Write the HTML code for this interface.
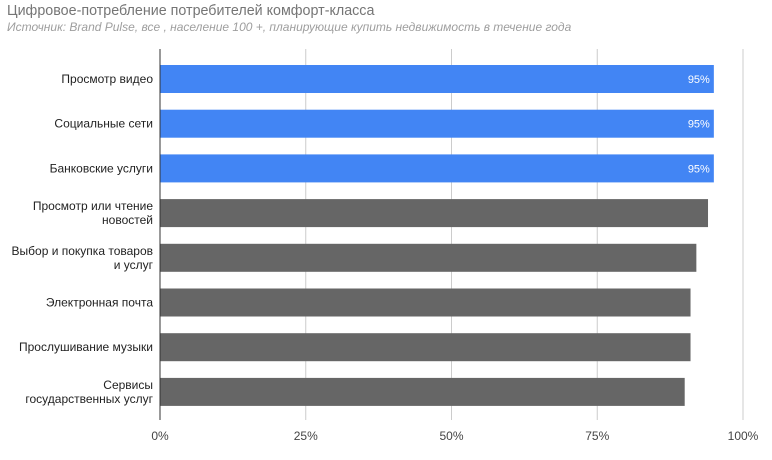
<!DOCTYPE html>
<html><head><meta charset="utf-8"><style>
body{margin:0;background:#fff;font-family:"Liberation Sans","Noto Sans CJK SC",sans-serif;}
svg text{font-family:"Liberation Sans","Noto Sans CJK SC",sans-serif;}
</style></head><body>
<svg id="c" width="772" height="455" xmlns="http://www.w3.org/2000/svg">
<text x="7" y="15" font-size="14.3" fill="#757575">Цифровое-потребление потребителей комфорт-класса</text>
<text x="7" y="31" font-size="12" font-style="italic" fill="#9e9e9e">Источник: Brand Pulse, все , население 100 +, планирующие купить недвижимость в течение года</text>
<g id="grid"></g><g id="bars"></g><g id="labels"></g>
</svg>
<script>
const categories=[["Просмотр видео"],["Социальные сети"],["Банковские услуги"],["Просмотр или чтение","новостей"],["Выбор и покупка товаров","и услуг"],["Электронная почта"],["Прослушивание музыки"],["Сервисы","государственных услуг"]];
const values=[95,95,95,94,92,91,91,90];
const highlighted=[true,true,true,false,false,false,false,false];
const ticks=[0,25,50,75,100];
const tickLabels=["0%","25%","50%","75%","100%"];
const NS="http://www.w3.org/2000/svg";
const x0=160,x1=743,plotTop=49,plotBottom=420,step=44.7,firstC=79,bh=28;
const xs=v=>x0+(x1-x0)*v/100;
const yc=i=>firstC+i*step;
function mk(t,a,p){const e=document.createElementNS(NS,t);for(const k in a)e.setAttribute(k,a[k]);p.appendChild(e);return e;}
const g=document.getElementById('grid'),b=document.getElementById('bars'),l=document.getElementById('labels');
ticks.forEach((t,i)=>{
const ln=mk('line',{x1:xs(t),x2:xs(t),y1:plotTop,y2:plotBottom,stroke:i==0?'#333':'#ccc','stroke-width':1},g);


const tx=mk('text',{x:xs(t),y:440,'font-size':12,fill:'#444','text-anchor':'middle'},g);
tx.textContent=tickLabels[i];


});
values.forEach((v,i)=>{
const r=mk('rect',{x:x0+0.5,y:yc(i)-bh/2,width:xs(v)-x0-0.5,height:bh,fill:highlighted[i]?'#4285f4':'#666666'},b);


if(highlighted[i]){const t=mk('text',{x:xs(v)-4,y:yc(i)+4,'font-size':11,fill:'#fff','text-anchor':'end'},b);t.textContent=v+'%';

}
const lines=categories[i];
lines.forEach((s,j)=>{
const t=mk('text',{x:153,y:yc(i)+4+(j-(lines.length-1)/2)*14,'font-size':12,fill:'#222','text-anchor':'end'},l);
t.textContent=s;


});
});
</script>
</body></html>
